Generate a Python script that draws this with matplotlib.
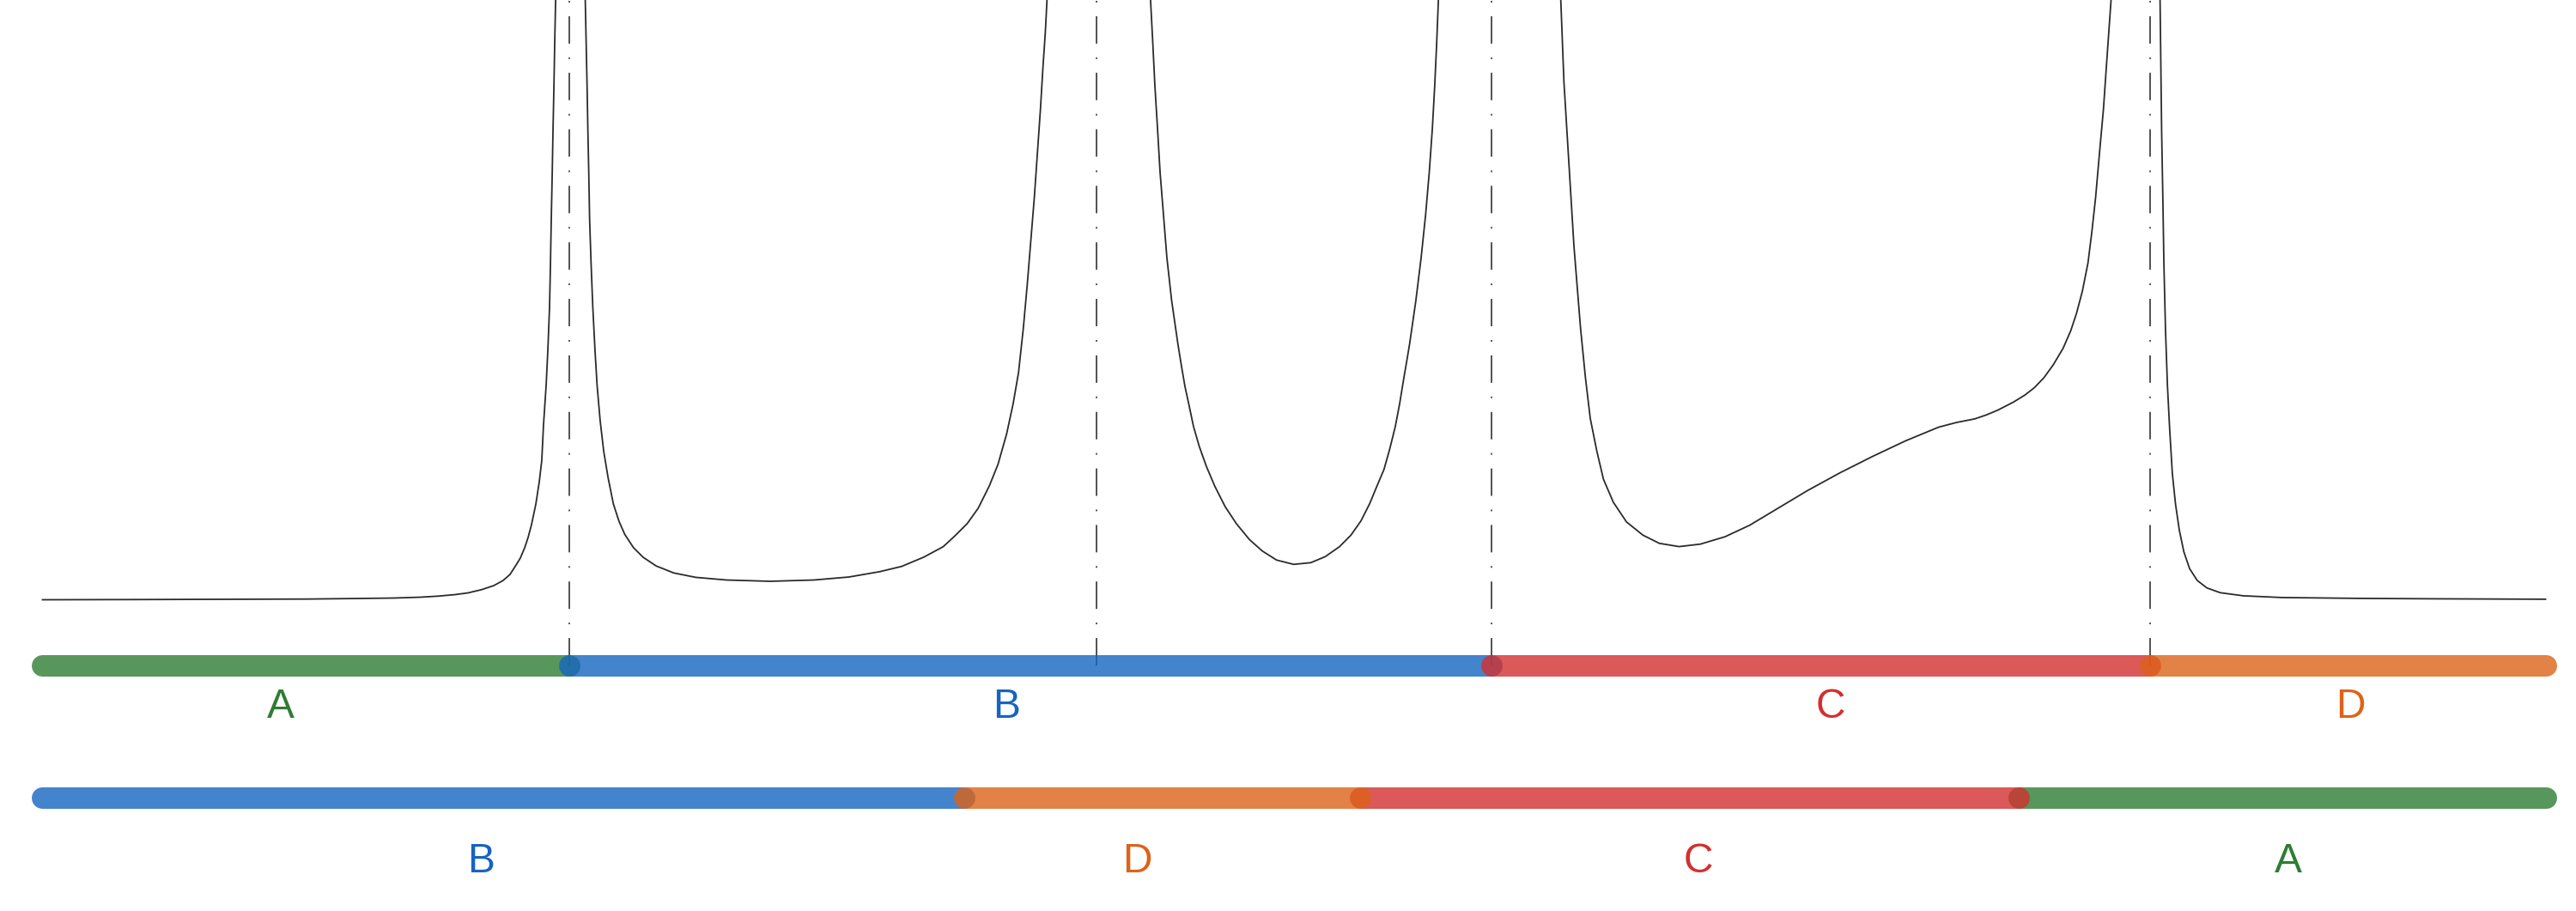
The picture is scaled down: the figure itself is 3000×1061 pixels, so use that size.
import numpy as np
import matplotlib.pyplot as plt

# segments and their lengths along the track
names = ['A', 'B', 'C', 'D']
lengths = [4, 7, 5, 3]

# order of the segments in the two rows
top_order = ['A', 'B', 'C', 'D']
bottom_order = ['B', 'D', 'C', 'A']

# positions of the dash-dot markers
marks = [4, 8, 11, 16]

# curve, one branch per list (peaks run off the top)
branch_x = [
    [0.0, 0.655, 1.307, 2.004, 2.415, 2.669, 2.871, 3.002, 3.132, 3.230,
     3.334, 3.426, 3.497, 3.549, 3.595, 3.627, 3.660, 3.686, 3.712, 3.745,
     3.771, 3.790, 3.803, 3.823, 3.836, 3.849, 3.856, 3.862, 3.869, 3.875,
     3.882, 3.888, 3.895],
    [4.120, 4.127, 4.134, 4.140, 4.147, 4.153, 4.164, 4.177, 4.194, 4.210,
     4.233, 4.260, 4.293, 4.333, 4.376, 4.420, 4.486, 4.559, 4.659, 4.792,
     4.958, 5.191, 5.523, 5.856, 6.122, 6.355, 6.521, 6.688, 6.837, 6.920,
     7.020, 7.103, 7.186, 7.253, 7.319, 7.369, 7.409, 7.445, 7.475, 7.502,
     7.529, 7.552, 7.575, 7.595, 7.612, 7.625],
    [8.411, 8.428, 8.444, 8.464, 8.483, 8.509, 8.535, 8.571, 8.618, 8.646,
     8.672, 8.705, 8.737, 8.781, 8.835, 8.900, 8.977, 9.063, 9.161, 9.259,
     9.368, 9.498, 9.628, 9.737, 9.845, 9.932, 10.008, 10.074, 10.128,
     10.183, 10.226, 10.269, 10.302, 10.334, 10.360, 10.378, 10.425, 10.465,
     10.499, 10.527, 10.550, 10.568, 10.583, 10.596],
    [11.525, 11.549, 11.587, 11.625, 11.675, 11.712, 11.749, 11.799, 11.849,
     11.924, 12.024, 12.148, 12.273, 12.423, 12.585, 12.772, 12.959, 13.146,
     13.395, 13.645, 13.894, 14.144, 14.393, 14.530, 14.669, 14.756, 14.843,
     14.960, 15.047, 15.120, 15.193, 15.265, 15.338, 15.396, 15.440, 15.484,
     15.527, 15.556, 15.585, 15.614, 15.644, 15.667, 15.688, 15.702],
    [16.074, 16.080, 16.086, 16.095, 16.103, 16.115, 16.130, 16.147, 16.167,
     16.191, 16.220, 16.255, 16.298, 16.356, 16.429, 16.531, 16.706, 16.996,
     17.579, 18.160, 19.0],
]
branch_y = [
    [0.765, 0.767, 0.77, 0.773, 0.78, 0.785, 0.795, 0.807, 0.825, 0.845,
     0.883, 0.93, 0.99, 1.06, 1.17, 1.25, 1.37, 1.49, 1.64, 1.88,
     2.14, 2.39, 2.80, 3.26, 3.67, 4.18, 4.69, 5.20, 5.71, 6.22,
     6.73, 7.24, 7.75],
    [7.75, 7.24, 6.73, 6.219, 5.709, 5.199, 4.689, 4.179, 3.668, 3.26,
     2.852, 2.495, 2.189, 1.883, 1.679, 1.526, 1.372, 1.26, 1.158, 1.077,
     1.026, 0.995, 0.98, 0.995, 1.03, 1.092, 1.153, 1.26, 1.383, 1.50,
     1.653, 1.832, 2.087, 2.342, 2.699, 3.056, 3.413, 3.923, 4.434, 4.944,
     5.454, 5.964, 6.474, 6.985, 7.367, 7.75],
    [7.75, 7.25, 6.75, 6.25, 5.75, 5.25, 4.75, 4.25, 3.75, 3.483,
     3.25, 3.017, 2.783, 2.55, 2.317, 2.083, 1.85, 1.65, 1.467, 1.333,
     1.227, 1.177, 1.197, 1.267, 1.383, 1.517, 1.683, 1.883, 2.083,
     2.283, 2.517, 2.783, 3.05, 3.35, 3.583, 3.75, 4.25, 4.75,
     5.25, 5.75, 6.25, 6.75, 7.25, 7.75],
    [7.75, 6.794, 5.838, 4.882, 3.927, 3.353, 2.875, 2.493, 2.168,
     1.90, 1.671, 1.518, 1.422, 1.384, 1.413, 1.499, 1.633, 1.805,
     2.034, 2.244, 2.436, 2.617, 2.775, 2.83, 2.872, 2.918, 2.974,
     3.066, 3.148, 3.235, 3.352, 3.505, 3.694, 3.898, 4.102, 4.357,
     4.689, 5.046, 5.454, 5.964, 6.474, 6.985, 7.444, 7.75],
    [7.75, 6.985, 6.219, 5.454, 4.689, 3.923, 3.26, 2.75, 2.24,
     1.883, 1.577, 1.321, 1.128, 0.99, 0.903, 0.847, 0.811, 0.791,
     0.781, 0.776, 0.771],
]

colors = {'A': '#2E7D32', 'B': '#1565C0', 'C': '#D32F2F', 'D': '#DD6318'}

# small shifts of the letters from the segment middles
nudge_top = {'A': -0.19, 'B': -0.18, 'C': 0.07, 'D': 0.02}
nudge_bottom = {'A': 0.05, 'B': -0.17, 'C': 0.07, 'D': -0.19}

plt.rcParams['lines.scale_dashes'] = False

fig = plt.figure(figsize=(30, 10.61), dpi=100)
ax = fig.add_axes([0, 0, 1, 1])
ax.set_xlim(-0.3226, 19.2313)
ax.set_ylim(-2.86, 7.75)
ax.axis('off')

# dash-dot markers from the top bar upwards
for m in marks:
    ax.plot([m, m], [0, 7.75], color='#333333', lw=1.2,
            linestyle=(0, (23, 11.5, 1.4, 11.5)), zorder=1)

for bx, by in zip(branch_x, branch_y):
    ax.plot(bx, by, color='#2b2b2b', lw=1.3, zorder=2,
            solid_joinstyle='round')


def draw_row(order, y, label_y, nudge):
    start = {}
    pos = 0
    for n in order:
        start[n] = pos
        pos += lengths[names.index(n)]
    # draw alphabetically so the overlap discs come out like the original
    for n in names:
        x0 = start[n]
        x1 = x0 + lengths[names.index(n)]
        ax.plot([x0, x1], [y, y], color=colors[n], alpha=0.8, lw=18,
                solid_capstyle='round', zorder=3)
        ax.text((x0 + x1) / 2 + nudge[n], label_y, n, color=colors[n],
                fontsize=34.5, family='Liberation Sans',
                ha='center', va='baseline')


draw_row(top_order, 0, -0.615, nudge_top)
draw_row(bottom_order, -1.535, -2.41, nudge_bottom)

fig.savefig('out.png', dpi=100)
